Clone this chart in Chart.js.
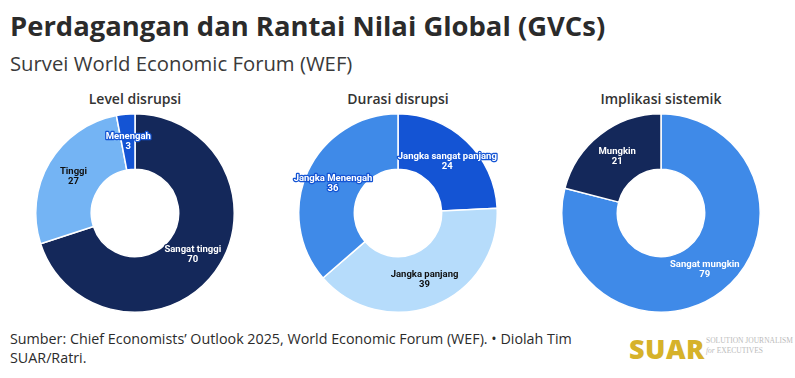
<!DOCTYPE html>
<html>
<head>
<meta charset="utf-8">
<script src="https://cdn.jsdelivr.net/npm/chart.js@4"></script>
<style>
  body { margin: 0; background: #fff; width: 795px; height: 378px; position: relative; overflow: hidden; font-family: "Open Sans", sans-serif; }
  #title { position: absolute; left: 10px; top: 7px; font-size: 27.4px; font-weight: 700; color: #2b2b2b; white-space: nowrap; }
  #sub { position: absolute; left: 10px; top: 49px; font-size: 20.3px; color: #3a3a3a; white-space: nowrap; }
  .ct { position: absolute; top: 89px; width: 240px; text-align: center; font-size: 14px; font-weight: 600; color: #333; }
  canvas { position: absolute; top: 113px; }
  #src { position: absolute; left: 10px; top: 329px; font-size: 14.3px; line-height: 19px; color: #2b2b2b; width: 620px; }
  #logo { position: absolute; left: 629px; top: 330px; font-size: 27px; font-weight: 800; color: #d6b22a; letter-spacing: 0.5px; font-family: "Open Sans", sans-serif; }
  #tag { position: absolute; left: 706px; top: 336px; font-size: 7.5px; line-height: 10px; color: #bbb; font-family: "Liberation Serif", serif; }
</style>
</head>
<body>
<div id="title">Perdagangan dan Rantai Nilai Global (GVCs)</div>
<div id="sub">Survei World Economic Forum (WEF)</div>
<div class="ct" style="left:15px">Level disrupsi</div>
<div class="ct" style="left:278px">Durasi disrupsi</div>
<div class="ct" style="left:541px">Implikasi sistemik</div>
<canvas id="c1" width="260" height="200" style="left:5px"></canvas>
<canvas id="c2" width="260" height="200" style="left:268px"></canvas>
<canvas id="c3" width="260" height="200" style="left:531px"></canvas>
<div id="src">Sumber: Chief Economists’ Outlook 2025, World Economic Forum (WEF). • Diolah Tim<br>SUAR/Ratri.</div>
<div id="logo">SUAR</div>
<div id="tag">SOLUTION JOURNALISM<br><i>for</i> EXECUTIVES</div>
<script>
var levelLabels = ['Sangat tinggi', 'Tinggi', 'Menengah'];
var levelValues = [70, 27, 3];
var durasiLabels = ['Jangka sangat panjang', 'Jangka panjang', 'Jangka Menengah'];
var durasiValues = [24, 39, 36];
var implikasiLabels = ['Sangat mungkin', 'Mungkin'];
var implikasiValues = [79, 21];

var NAVY = '#14285a', LIGHT = '#74b4f4', ROYAL = '#1454d4', PALE = '#b6dcfb', MID = '#3f8ae8';

var labelPlugin = {
  id: 'sliceLabels',
  afterDatasetsDraw: function (chart) {
    var ctx = chart.ctx;
    var ds = chart.data.datasets[0];
    chart.getDatasetMeta(0).data.forEach(function (arc, i) {
      var p = arc.tooltipPosition();
      var dark = ds.textDark[i];
      ctx.save();
      ctx.font = '700 9.5px Roboto, sans-serif';
      ctx.textAlign = 'center';
      ctx.textBaseline = 'middle';
      var lines = [chart.data.labels[i], String(ds.data[i])];
      lines.forEach(function (t, k) {
        var y = p.y - 5 + k * 10;
        if (!dark) {
          ctx.strokeStyle = ds.outline[i];
          ctx.lineWidth = 2.5;
          ctx.lineJoin = 'round';
          ctx.strokeText(t, p.x, y);
        }
        ctx.fillStyle = dark ? '#111' : '#fff';
        ctx.fillText(t, p.x, y);
      });
      ctx.restore();
    });
  }
};

function makeDonut(id, labels, values, colors, textDark, outline) {
  var ctx = document.getElementById(id).getContext('2d');
  return new Chart(ctx, {
    type: 'doughnut',
    data: {
      labels: labels,
      datasets: [{
        data: values,
        backgroundColor: colors,
        borderColor: '#fff',
        borderWidth: 1.5,
        textDark: textDark,
        outline: outline
      }]
    },
    options: {
      responsive: false,
      animation: false,
      cutout: '44%',
      layout: { padding: { left: 30, right: 30, top: 0, bottom: 0 } },
      plugins: { legend: { display: false }, tooltip: { enabled: false } }
    },
    plugins: [labelPlugin]
  });
}

makeDonut('c1', levelLabels, levelValues, [NAVY, LIGHT, ROYAL], [false, true, false], [NAVY, LIGHT, ROYAL]);
makeDonut('c2', durasiLabels, durasiValues, [ROYAL, PALE, MID], [false, true, false], [ROYAL, PALE, ROYAL]);
makeDonut('c3', implikasiLabels, implikasiValues, [MID, NAVY], [false, false], [MID, NAVY]);
</script>
</body>
</html>
